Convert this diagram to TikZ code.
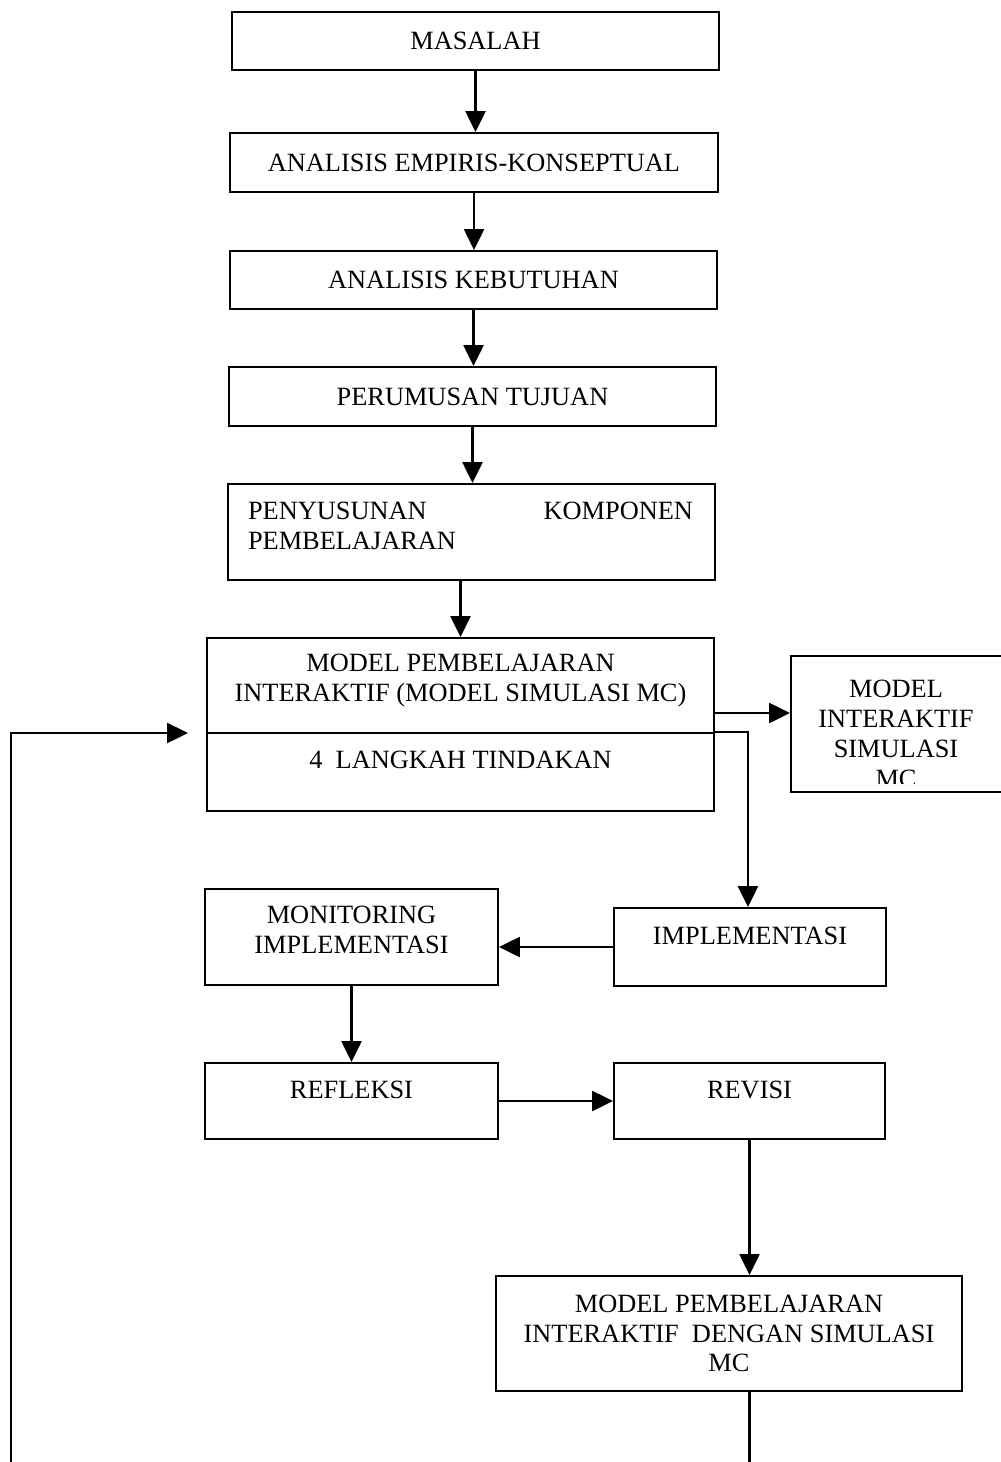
\documentclass[tikz,border=0pt]{standalone}
\usepackage{fontspec}
\setmainfont{Liberation Serif}
\usetikzlibrary{arrows.meta,positioning}

\begin{document}
\begin{tikzpicture}[font=\fontsize{15}{17}\selectfont,
    kotak/.style={draw,line width=1.1pt,inner sep=0pt},
    teks/.style={align=center,inner sep=0pt},
    panah/.style={line width=1.4pt,-{Triangle[length=0.42cm,width=0.40cm]}},
    garis/.style={line width=1.4pt}]
  \useasboundingbox (0,0) rectangle (20,-29.24);
  % alur utama
  \node[kotak,minimum width=9.74cm,minimum height=1.16cm] (masalah) at (9.51,-0.82) {MASALAH};
  \node[kotak,minimum width=9.76cm,minimum height=1.18cm] (empiris) at (9.48,-3.25) {ANALISIS EMPIRIS-KONSEPTUAL};
  \node[kotak,minimum width=9.74cm,minimum height=1.16cm] (kebutuhan) at (9.47,-5.60) {ANALISIS KEBUTUHAN};
  \node[kotak,minimum width=9.74cm,minimum height=1.18cm] (tujuan) at (9.45,-7.93) {PERUMUSAN TUJUAN};
  \node[kotak,minimum width=9.74cm,minimum height=1.92cm] (komponen) at (9.43,-10.64) {};
  \node[teks,text width=8.9cm,align=left] (komponentxt) at (9.41,-10.51) {PENYUSUNAN\hfill KOMPONEN\\PEMBELAJARAN};
  \node[kotak,minimum width=10.14cm,minimum height=1.90cm] (model) at (9.21,-13.71) {};
  \node[teks] (modeltxt) at (9.21,-13.62) {MODEL PEMBELAJARAN\\INTERAKTIF (MODEL SIMULASI MC)};
  \node[kotak,minimum width=10.14cm,minimum height=1.56cm] (langkah) at (9.21,-15.44) {};
  \node[teks] (langkahtxt) at (9.21,-15.20) {4\ \ LANGKAH TINDAKAN};
  \node[kotak,minimum width=4.38cm,minimum height=2.72cm] (mcbox) at (18.01,-14.48) {};
  \begin{scope}
    \clip (mcbox.north west) rectangle ([yshift=0.18cm]mcbox.south east);
    \node[teks] (mctxt) at (17.92,-14.68) {MODEL\\INTERAKTIF\\SIMULASI\\MC};
  \end{scope}
  % siklus tindakan
  \node[kotak,minimum width=5.44cm,minimum height=1.56cm] (impl) at (15.00,-18.94) {};
  \node[teks] (impltxt) at (15.00,-18.72) {IMPLEMENTASI};
  \node[kotak,minimum width=5.86cm,minimum height=1.92cm] (monitor) at (7.03,-18.74) {};
  \node[teks] (monitortxt) at (7.03,-18.59) {MONITORING\\IMPLEMENTASI};
  \node[kotak,minimum width=5.86cm,minimum height=1.52cm] (refleksi) at (7.03,-22.02) {};
  \node[teks] (refleksitxt) at (7.03,-21.80) {REFLEKSI};
  \node[kotak,minimum width=5.42cm,minimum height=1.52cm] (revisi) at (14.99,-22.02) {};
  \node[teks] (revisitxt) at (14.99,-21.80) {REVISI};
  \node[kotak,minimum width=9.32cm,minimum height=2.30cm,align=center] (akhir) at (14.58,-26.67) {MODEL PEMBELAJARAN\\INTERAKTIF\ \ DENGAN SIMULASI\\MC};
  % panah
  \draw[panah] (masalah.south) -- (masalah.south |- empiris.north);
  \draw[panah] (empiris.south) -- (empiris.south |- kebutuhan.north);
  \draw[panah] (kebutuhan.south) -- (kebutuhan.south |- tujuan.north);
  \draw[panah] (tujuan.south) -- (tujuan.south |- komponen.north);
  \draw[panah] (model.north |- komponen.south) -- (model.north);
  \draw[panah] ([yshift=-0.55cm]model.east) -- ([yshift=-0.55cm]model.east -| mcbox.west);
  \draw[panah] (langkah.north east) -- ++(0.66,0) coordinate (belok) -- (belok |- impl.north);
  \draw[panah] (impl.west) -- (impl.west -| monitor.east);
  \draw[panah] (monitor.south) -- (monitor.south |- refleksi.north);
  \draw[panah] (refleksi.east) -- (revisi.west);
  \draw[panah] (revisi.south) -- (revisi.south |- akhir.north);
  \coordinate (bawah) at (14.99,-29.4);
  \draw[garis] (revisi.south |- akhir.south) -- (bawah);
  \coordinate (kiri) at (0.22,-29.4);
  \coordinate (masuk) at (3.76,-14.66);
  \draw[panah] (kiri) -- (kiri |- masuk) -- (masuk);
\end{tikzpicture}
\end{document}
